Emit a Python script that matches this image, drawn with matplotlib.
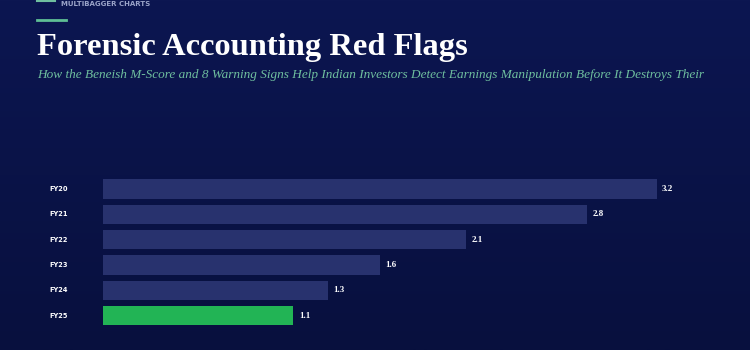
import matplotlib
matplotlib.use("Agg")
import matplotlib.pyplot as plt
import matplotlib.transforms as mtransforms
from matplotlib.colors import LinearSegmentedColormap
import numpy as np

categories = ["FY20", "FY21", "FY22", "FY23", "FY24", "FY25"]
values = [3.2, 2.8, 2.1, 1.6, 1.3, 1.1]
value_labels = ["3.2", "2.8", "2.1", "1.6", "1.3", "1.1"]
highlight = "FY25"

title = "Forensic Accounting Red Flags"
subtitle = ("How the Beneish M-Score and 8 Warning Signs Help Indian Investors "
            "Detect Earnings Manipulation Before It Destroys Their")
brand = "MULTIBAGGER CHARTS"

BG = "#0a1449"
BAR = "#28326e"
GREEN = "#22b455"

W, H = 750, 350
fig = plt.figure(figsize=(7.5, 3.5), dpi=100)
fig.patch.set_facecolor(BG)

# subtle background gradient
bgax = fig.add_axes([0, 0, 1, 1], zorder=-10)
grad = np.linspace(0, 1, 256).reshape(-1, 1)
cmap = LinearSegmentedColormap.from_list("bg", ["#0c1651", "#08103e"])
bgax.imshow(grad, aspect="auto", cmap=cmap, extent=[0, 1, 0, 1], origin="upper")
bgax.set_axis_off()

# header decorations
fig.add_artist(plt.Line2D([37 / W, 55 / W], [1 - 1 / H, 1 - 1 / H], color="#6fbf9f", lw=1.5))
fig.text(61 / W, 1 - 0.5 / H, brand, color="#9aa3c8", fontsize=5, fontweight="bold",
         ha="left", va="top", family="DejaVu Sans")
fig.add_artist(plt.Line2D([37 / W, 66 / W], [1 - 20 / H, 1 - 20 / H], color="#5fbf95", lw=2))

fig.text(37 / W, 1 - 47 / H, title, color="white", fontsize=23.4, fontweight="bold",
         ha="left", va="center", family="Liberation Serif")
fig.text(37 / W, 1 - 75 / H, subtitle, color="#6fbf9f", fontsize=9.5, style="italic",
         ha="left", va="center", family="Liberation Serif")

# chart axes
x0 = 103
px_per_unit = 173.0
ax_w = 600
row = 25.3
top_px = 189 - row / 2
ax_h = row * len(categories)
ax = fig.add_axes([x0 / W, 1 - (top_px + ax_h) / H, ax_w / W, ax_h / H])
ax.set_facecolor("none")
ax.set_xlim(0, ax_w / px_per_unit)
ax.set_ylim(len(categories) - 0.5, -0.5)

y = np.arange(len(categories))
colors = [GREEN if c == highlight else BAR for c in categories]
ax.barh(y, values, height=0.76, color=colors, edgecolor="none")

for yi, v, lab in zip(y, values, value_labels):
    ax.annotate(lab, (v, yi), xytext=(4, 0), textcoords="offset points",
                color="white", fontsize=6.5, fontweight="bold", va="center", ha="left",
                family="Liberation Serif")

trans = mtransforms.blended_transform_factory(fig.transFigure, ax.transData)
for yi, c in zip(y, categories):
    ax.text(59 / W, yi, c, transform=trans, color="white", fontsize=4.8,
            fontweight="bold", ha="center", va="center", family="DejaVu Sans")

ax.set_xticks([])
ax.set_yticks([])
for s in ax.spines.values():
    s.set_visible(False)

fig.savefig("out.png", dpi=100, facecolor=BG)
